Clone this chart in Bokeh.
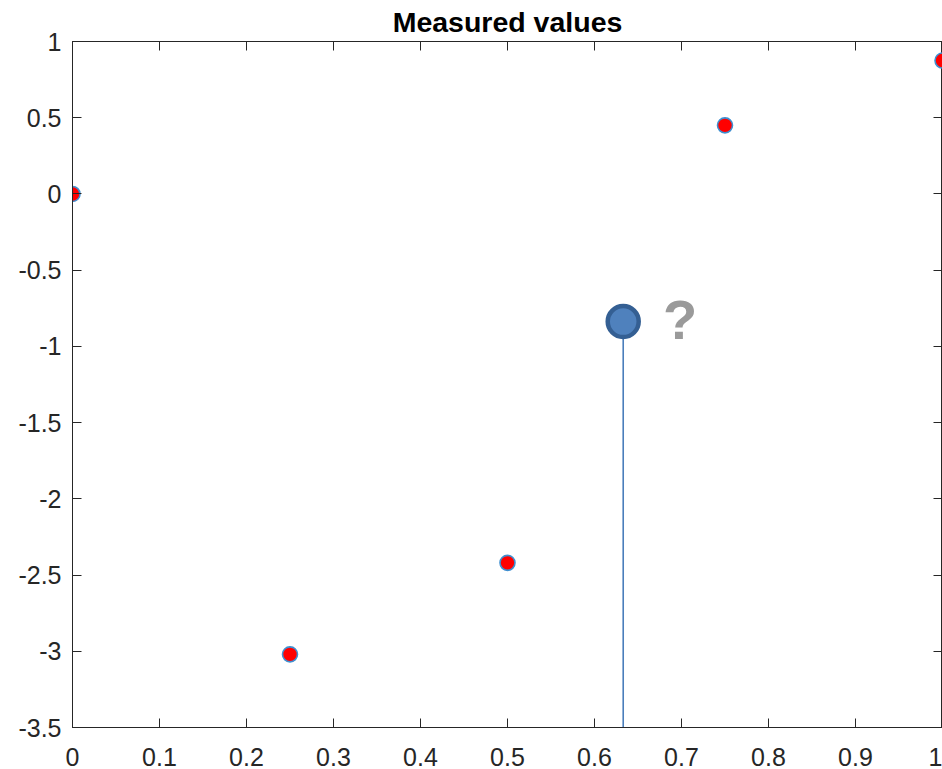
from bokeh.plotting import figure
from bokeh.models import Range1d, LinearAxis, FixedTicker, CustomLabelingPolicy
from bokeh.core.properties import value
from bokeh.embed import file_html
from bokeh.resources import INLINE

# Measured samples
x_meas = [0.0, 0.25, 0.5, 0.75, 1.0]
y_meas = [0.0, -3.02, -2.42, 0.45, 0.875]

# Queried (unknown) point
query_x = [0.633]
query_y = [-0.837]
query_label = ["?"]

# Axis ticks
x_ticks = [0.0, 0.1, 0.2, 0.3, 0.4, 0.5, 0.6, 0.7, 0.8, 0.9, 1.0]
x_tick_labels = ["0", "0.1", "0.2", "0.3", "0.4", "0.5", "0.6", "0.7", "0.8", "0.9", "1"]
y_ticks = [-3.5, -3.0, -2.5, -2.0, -1.5, -1.0, -0.5, 0.0, 0.5, 1.0]
y_tick_labels = ["-3.5", "-3", "-2.5", "-2", "-1.5", "-1", "-0.5", "0", "0.5", "1"]

FONT = "Liberation Sans"
AX = "#262626"

p = figure(width=942, height=769,
           x_range=Range1d(x_ticks[0], x_ticks[-1]),
           y_range=Range1d(y_ticks[0], y_ticks[-1]),
           output_backend="svg", toolbar_location=None,
           min_border_left=72, min_border_right=0,
           min_border_top=40, min_border_bottom=42,
           title="Measured values")
p.title.text_font = FONT
p.title.text_font_size = "28.5px"
p.title.text_font_style = "bold"
p.title.text_color = "black"
p.title.align = "center"
p.title.standoff = 7
p.grid.visible = False
p.outline_line_color = AX
p.outline_line_width = 1
p.background_fill_color = "white"
p.border_fill_color = "white"

xlab = {t: l for t, l in zip(x_ticks, x_tick_labels)}
ylab = {t: l for t, l in zip(y_ticks, y_tick_labels)}

def style(ax, ticks, labels, show):
    ax.ticker = FixedTicker(ticks=ticks)
    ax.major_label_overrides = labels
    ax.minor_tick_line_color = None
    ax.major_tick_in = 9
    ax.major_tick_out = 0
    ax.major_tick_line_color = AX
    ax.axis_line_color = AX
    ax.axis_line_width = 1
    ax.major_label_text_font = FONT
    ax.major_label_text_color = AX
    if show:
        ax.major_label_text_font_size = "25px"
    else:
        ax.major_label_text_font_size = "0px"
        ax.major_label_standoff = 0
        ax.major_label_policy = CustomLabelingPolicy(
            code="for (const i of Array.from(indices)) { indices.unset(i) }\nreturn indices")

style(p.xaxis[0], x_ticks, xlab, True)
p.xaxis[0].major_label_standoff = 20
style(p.yaxis[0], y_ticks, ylab, True)
p.yaxis[0].major_label_standoff = 11

top = LinearAxis()
style(top, x_ticks, xlab, False)
p.add_layout(top, "above")
right = LinearAxis()
style(right, y_ticks, ylab, False)
p.add_layout(right, "right")

# stem from the query point down to the bottom of the axis
p.segment(x0=query_x, y0=query_y, x1=query_x, y1=[y_ticks[0]] * len(query_x),
          line_color="#4a7ebb", line_width=1.6)

# measured samples
p.scatter(x_meas, y_meas, size=15, fill_color="#ff0000", line_color="#3f8fd0",
          line_width=1.6)

# query point
p.scatter(query_x, query_y, size=31, fill_color="#4f81bd", line_color="#345f93",
          line_width=4.5)

p.text(query_x, query_y, text=query_label, x_offset=57, y_offset=-2,
       text_align="center", text_baseline="middle",
       text_font=value(FONT), text_font_style="bold", text_font_size="56px",
       text_color="#9a9a9a")

open("out.html", "w").write(file_html(p, INLINE))
